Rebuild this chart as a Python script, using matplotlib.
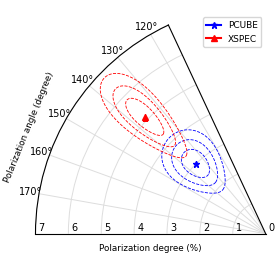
import numpy as np
import matplotlib
matplotlib.use('Agg')
import matplotlib.pyplot as plt
from matplotlib.transforms import offset_copy

# best-fit values (PA in degree, PD in %) and 1-sigma errors
labels = ['PCUBE', 'XSPEC']
colors = ['blue', 'red']
markers = ['*', '^']
pa_best = [135.0, 136.0]
pd_best = [3.0, 5.1]
pa_err = [4.3, 2.1]
pd_err = [0.33, 0.5]

# delta chi2 levels for 1, 2, 3 sigma (2 parameters)
levels = [2.30, 6.18, 11.83]

r_ticks = [0, 1, 2, 3, 4, 5, 6, 7]
theta_ticks = [120, 130, 140, 150, 160, 170]

fig = plt.figure(figsize=(2.8, 2.8), dpi=100)
ax = fig.add_axes([0.084, 0.127, 0.9075, 0.822], projection='polar')
ax.set_thetamin(115)
ax.set_thetamax(180)
ax.set_rlim(0, 7)

th = np.radians(np.linspace(100, 190, 400))
rr = np.linspace(0.01, 7, 400)
TH, RR = np.meshgrid(th, rr)

for i in range(len(labels)):
    chi2 = ((np.degrees(TH) - pa_best[i]) / pa_err[i]) ** 2 + ((RR - pd_best[i]) / pd_err[i]) ** 2
    ax.contour(TH, RR, chi2, levels=levels, colors=colors[i], linestyles='dashed', linewidths=0.6)
    ax.plot(np.radians(pa_best[i]), pd_best[i], marker=markers[i], color=colors[i],
            markersize=5, linestyle='-', label=labels[i])

ax.set_thetagrids(theta_ticks, [str(t) + '°' for t in theta_ticks], fontsize=7)
ax.tick_params(axis='x', pad=-4.5)
ax.set_rgrids(r_ticks, [''] * len(r_ticks))
ax.grid(color='#dddddd', linewidth=0.7)
for sp in ax.spines.values():
    sp.set_linewidth(0.8)

# radial tick labels along the 180 degree edge, inside the wedge
lab_tr = offset_copy(ax.transData, fig=fig, x=3, y=1, units='dots')
for r in r_ticks:
    ax.text(np.pi, r, str(r), transform=lab_tr, ha='left', va='bottom', fontsize=7)

fig.text(0.538, 0.112, 'Polarization degree (%)', ha='center', va='center', fontsize=6.3)
fig.text(0.105, 0.546, 'Polarization angle (degree)', ha='center', va='center',
         fontsize=6.3, rotation=68)

fig.legend(loc='upper right', bbox_to_anchor=(0.95, 0.954), fontsize=6.5, handlelength=1.6)

fig.savefig('out.png', dpi=100)
